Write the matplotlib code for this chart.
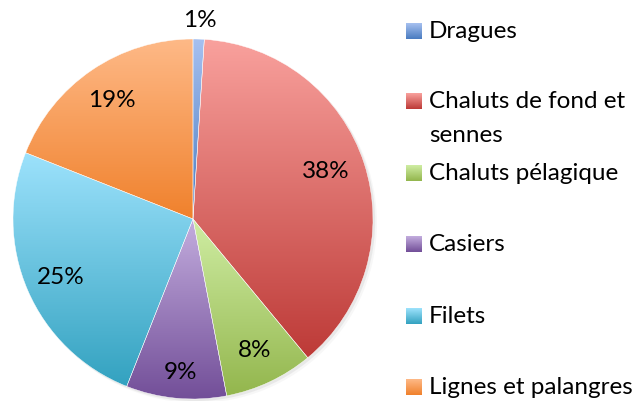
import numpy as np
import matplotlib.pyplot as plt
from matplotlib.colors import LinearSegmentedColormap
from matplotlib.patches import Circle

# data
labels = ['Dragues', 'Chaluts de fond et\nsennes', 'Chaluts pélagique',
          'Casiers', 'Filets', 'Lignes et palangres']
values = [1, 38, 8, 9, 25, 19]
# gradient colours (top, bottom) of each slice
tops = ['#a6c0f0', '#f9a19d', '#cfeda3', '#c3adde', '#9de2fc', '#feb987']
bottoms = ['#4a7cc0', '#bd3a37', '#93b64d', '#724e98', '#33a2c0', '#f0812c']

plt.rcParams['font.family'] = ['Lato', 'DejaVu Sans']

W, H = 636, 402
fig = plt.figure(figsize=(W / 100, H / 100), dpi=100)

# pie axes: centre at (193, 220) px, radius 180 px
cx, cy, R = 193, 220, 180
lim = 1.2
size = 2 * lim * R
ax = fig.add_axes([(cx - size / 2) / W, (H - cy - size / 2) / H, size / W, size / H])

wedges, texts, autotexts = ax.pie(values, startangle=90, counterclock=False,
                                  autopct='%d%%', pctdistance=0.8,
                                  wedgeprops=dict(edgecolor='white', linewidth=0.3),
                                  textprops=dict(fontsize=17.5, color='black'))
ax.set_xlim(-lim, lim)
ax.set_ylim(-lim, lim)
ax.set_aspect('equal')
ax.axis('off')

# soft shadow
for off, a in [(0.012, 0.12), (0.022, 0.06)]:
    ax.add_patch(Circle((off, -off), 1.0, color='gray', alpha=a, zorder=0, lw=0))

# vertical gradient inside each wedge
for w, t, b in zip(wedges, tops, bottoms):
    verts = w.get_patch_transform().transform(w.get_path().vertices)
    x0, x1 = verts[:, 0].min(), verts[:, 0].max()
    y0, y1 = verts[:, 1].min(), verts[:, 1].max()
    cmap = LinearSegmentedColormap.from_list('g', [b, t])
    grad = np.linspace(0, 1, 256).reshape(-1, 1)
    im = ax.imshow(grad, cmap=cmap, extent=(x0, x1, y0, y1), origin='lower',
                   aspect='auto', zorder=1, interpolation='bilinear')
    im.set_clip_path(w)
    w.set_facecolor('none')
    w.set_zorder(2)

# 1% label sits outside the pie
autotexts[0].set_position((0.04, 1.11))
autotexts[1].set_position((0.74, 0.27))
autotexts[3].set_position((-0.07, -0.85))
for t in autotexts:
    t.set_zorder(3)

# legend drawn by hand in pixel coordinates
lx = fig.add_axes([0, 0, 1, 1])
lx.axis('off')
rows = [32, 102, 174, 245, 317, 388]
for y, lab, t, b in zip(rows, labels, tops, bottoms):
    cmap = LinearSegmentedColormap.from_list('g', [t, b])
    grad = np.linspace(0, 1, 64).reshape(-1, 1)
    lx.imshow(grad, cmap=cmap, extent=(406, 422, y + 8, y - 8), aspect='auto')
    for i, line in enumerate(lab.split('\n')):
        lx.text(429, y + 34 * i, line, fontsize=17.5, va='center', ha='left')
lx.set_xlim(0, W)
lx.set_ylim(H, 0)

fig.savefig('out.png', dpi=100)
